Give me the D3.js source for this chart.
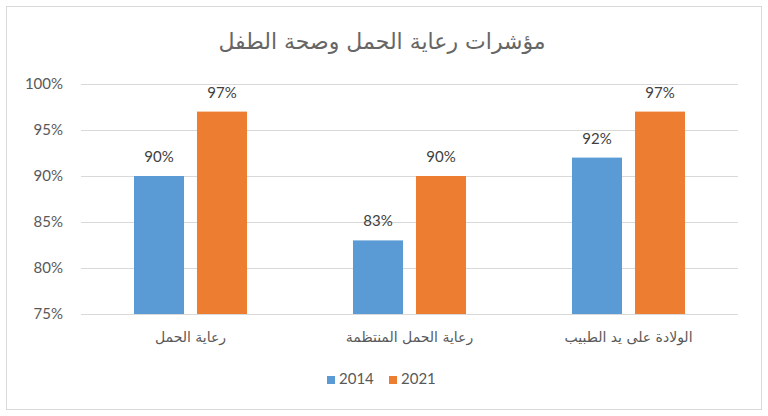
<!DOCTYPE html>
<html><head><meta charset="utf-8">
<script src="https://cdn.jsdelivr.net/npm/d3@7"></script>
<style>body{margin:0;background:#fff}svg{display:block}</style>
</head><body>
<svg id="c" width="768" height="416"></svg>
<script>
const title = "مؤشرات رعاية الحمل وصحة الطفل";
const categories = ["رعاية الحمل", "رعاية الحمل المنتظمة", "الولادة على يد الطبيب"];
const seriesNames = ["2014", "2021"];
const values2014 = [0.90, 0.83, 0.92];
const values2021 = [0.97, 0.90, 0.97];
const yTicks = [0.75, 0.80, 0.85, 0.90, 0.95, 1.00];
const colors = ["#5B9BD5", "#ED7D31"];

const seriesValues = [values2014, values2021];
const svg = d3.select("#c");
const numFont = "Lato, 'Open Sans', sans-serif";
const arFont = "'DejaVu Sans', 'Noto Sans', sans-serif";

svg.append("rect").attr("x", 6.5).attr("y", 6.5).attr("width", 755).attr("height", 403)
  .attr("fill", "#fff").attr("stroke", "#d9d9d9").attr("stroke-width", 1);

svg.append("text").attr("x", 382).attr("y", 43).attr("text-anchor", "middle")
  .attr("dominant-baseline", "middle").attr("direction", "rtl")
  .style("font-family", arFont).style("font-size", "22px").attr("fill", "#666666").text(title);

const x0 = d3.scaleBand().domain(categories).range([81, 738]).paddingInner(0).paddingOuter(0);
const x1 = d3.scaleBand().domain(seriesNames).range([0, x0.bandwidth()]).paddingInner(0.206).paddingOuter(0.841);
const y = d3.scaleLinear().domain([0.75, 1.0]).range([314, 84]);

// gridlines
const yAxis = d3.axisLeft(y).tickValues(yTicks).tickSize(-(738 - 81)).tickFormat(d3.format(".0%"));
const ga = svg.append("g").attr("transform", "translate(81,0)").call(yAxis);
ga.select(".domain").remove();
ga.selectAll(".tick line").attr("stroke", "#d9d9d9").attr("stroke-width", 1);
ga.selectAll(".tick text").attr("x", -18).attr("fill", "#595959")
  .style("font-family", numFont).style("font-size", "15px");

// bars
const groups = svg.append("g").selectAll("g").data(categories).join("g")
  .attr("transform", d => `translate(${x0(d)},0)`);
groups.selectAll("rect").data((d, i) => seriesNames.map((s, j) => ({s, v: seriesValues[j][i], j})))
  .join("rect")
  .attr("x", d => x1(d.s)).attr("width", x1.bandwidth())
  .attr("y", d => y(d.v)).attr("height", d => y(0.75) - y(d.v))
  .attr("fill", d => colors[d.j]);
groups.selectAll("text.lbl").data((d, i) => seriesNames.map((s, j) => ({s, v: seriesValues[j][i], j})))
  .join("text").attr("class", "lbl")
  .attr("x", d => x1(d.s) + x1.bandwidth() / 2).attr("y", d => y(d.v) - 14)
  .attr("text-anchor", "middle").attr("fill", "#404040")
  .style("font-family", numFont).style("font-size", "15px")
  .text(d => d3.format(".0%")(d.v));

// x axis labels
const xAxis = d3.axisBottom(x0).tickSize(0).tickPadding(0);
const gx = svg.append("g").attr("transform", "translate(0,314)").call(xAxis);
gx.select(".domain").remove();
gx.selectAll(".tick text").attr("y", 24).attr("dy", 0).attr("dominant-baseline", "middle")
  .attr("fill", "#595959").attr("direction", "rtl")
  .style("font-family", arFont).style("font-size", "14px");

// legend
const legend = svg.append("g");
const legX = [327, 389];
seriesNames.forEach((s, j) => {
  legend.append("rect").attr("x", legX[j]).attr("y", 376).attr("width", 8).attr("height", 8).attr("fill", colors[j]);
  legend.append("text").attr("x", legX[j] + 12).attr("y", 380).attr("dominant-baseline", "middle")
    .attr("fill", "#595959").style("font-family", numFont).style("font-size", "15px").text(s);
});
</script>
</body></html>
